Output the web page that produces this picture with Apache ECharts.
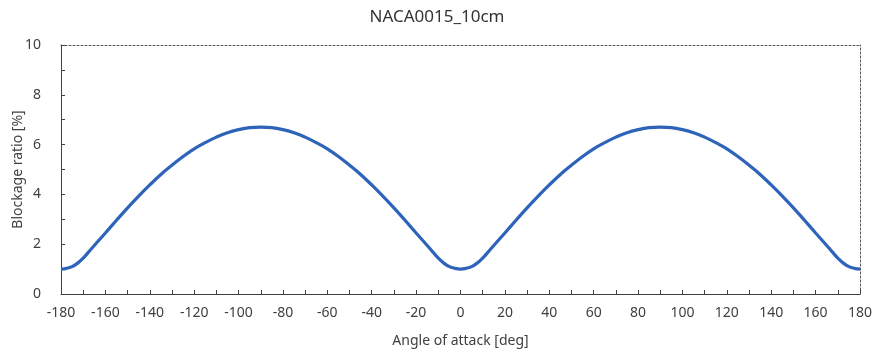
<!DOCTYPE html>
<html>
<head>
<meta charset="utf-8">
<script src="https://cdn.jsdelivr.net/npm/echarts@6/dist/echarts.min.js"></script>
<style>
  html, body { margin: 0; padding: 0; background: #fff; }
  #chart { width: 874px; height: 357px; }
</style>
</head>
<body>
<div id="chart"></div>
<script>
// Angle of attack [deg]
const angles = [
  -180, -177.5, -175, -172.5, -170, -167.5, -165, -160, -155, -150, -145, -140,
  -135, -130, -125, -120, -115, -110, -105, -100, -95, -90, -85, -80, -75, -70,
  -65, -60, -55, -50, -45, -40, -35, -30, -25, -20, -15, -12.5, -10, -7.5, -5, -2.5,
  0, 2.5, 5, 7.5, 10, 12.5, 15, 20, 25, 30, 35, 40, 45, 50, 55, 60, 65, 70, 75, 80,
  85, 90, 95, 100, 105, 110, 115, 120, 125, 130, 135, 140, 145, 150, 155, 160, 165,
  167.5, 170, 172.5, 175, 177.5, 180
];

// Blockage ratio [%]
const blockage = [
  1.00, 1.03, 1.10, 1.24, 1.44, 1.69, 1.95, 2.45, 2.96, 3.46, 3.93, 4.38,
  4.80, 5.17, 5.52, 5.83, 6.08, 6.30, 6.48, 6.60, 6.68, 6.70, 6.68, 6.60, 6.48, 6.30,
  6.08, 5.83, 5.52, 5.17, 4.80, 4.38, 3.93, 3.46, 2.96, 2.45, 1.95, 1.69, 1.44, 1.24, 1.10, 1.03,
  1.00, 1.03, 1.10, 1.24, 1.44, 1.69, 1.95, 2.45, 2.96, 3.46, 3.93, 4.38, 4.80, 5.17, 5.52, 5.83, 6.08, 6.30, 6.48, 6.60,
  6.68, 6.70, 6.68, 6.60, 6.48, 6.30, 6.08, 5.83, 5.52, 5.17, 4.80, 4.38, 3.93, 3.46, 2.96, 2.45, 1.95,
  1.69, 1.44, 1.24, 1.10, 1.03, 1.00
];

const titleText = 'NACA0015_10cm';
const xName = 'Angle of attack [deg]';
const yName = 'Blockage ratio [%]';

const font = '"Noto Sans", "Open Sans", sans-serif';
const axisColor = '#404040';
const textColor = '#404040';

const chart = echarts.init(document.getElementById('chart'), null, { renderer: 'canvas' });

const points = angles.map((a, i) => [a, blockage[i]]);

chart.setOption({
  animation: false,
  backgroundColor: '#ffffff',
  title: {
    text: titleText,
    left: 'center',
    top: 4,
    textStyle: { fontFamily: font, fontSize: 17, fontWeight: 'normal', color: '#333' }
  },
  grid: { left: 61, right: 14, top: 45, bottom: 63, containLabel: false, outerBoundsMode: 'none' },
  xAxis: [
    {
      type: 'value',
      min: -180, max: 180, interval: 20,
      name: xName,
      nameLocation: 'middle',
      nameGap: 40,
      nameMoveOverlap: false,
      nameTextStyle: { fontFamily: font, fontSize: 14, color: textColor },
      axisLine: { show: true, onZero: false, lineStyle: { color: axisColor, width: 1 } },
      axisTick: { show: true, inside: true, length: 4, lineStyle: { color: axisColor } },
      minorTick: { show: true, splitNumber: 2, length: 4, lineStyle: { color: axisColor } },
      axisLabel: { fontFamily: font, fontSize: 14, color: textColor, margin: 12 },
      splitLine: { show: false }
    },
    {
      type: 'value', position: 'top',
      min: -180, max: 180,
      axisLine: { show: true, onZero: false, lineStyle: { color: '#555', width: 1, type: [2, 2] } },
      axisTick: { show: false }, axisLabel: { show: false }, splitLine: { show: false }
    }
  ],
  yAxis: [
    {
      type: 'value',
      min: 0, max: 10, interval: 2,
      name: yName,
      nameLocation: 'middle',
      nameGap: 36,
      nameMoveOverlap: false,
      nameTextStyle: { fontFamily: font, fontSize: 14, color: textColor },
      axisLine: { show: true, onZero: false, lineStyle: { color: axisColor, width: 1 } },
      axisTick: { show: true, inside: true, length: 4, lineStyle: { color: axisColor } },
      minorTick: { show: true, splitNumber: 2, length: 4, lineStyle: { color: axisColor } },
      axisLabel: { fontFamily: font, fontSize: 14, color: textColor, margin: 20 },
      splitLine: { show: false }
    },
    {
      type: 'value', position: 'right',
      min: 0, max: 10,
      axisLine: { show: true, onZero: false, lineStyle: { color: '#555', width: 1, type: [2, 2] } },
      axisTick: { show: false }, axisLabel: { show: false }, splitLine: { show: false }
    }
  ],
  series: [
    {
      type: 'line',
      data: points,
      xAxisIndex: 0,
      yAxisIndex: 0,
      smooth: 0.4,
      showSymbol: false,
      lineStyle: { color: '#2E63BA', width: 3.2 },
      itemStyle: { color: '#2E63BA' }
    }
  ]
});
</script>
</body>
</html>
